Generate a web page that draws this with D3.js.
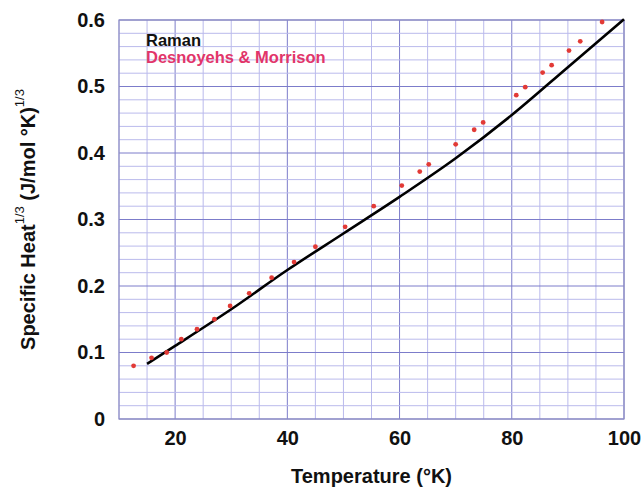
<!DOCTYPE html>
<html>
<head>
<meta charset="utf-8">
<title>Specific heat vs temperature</title>
<style>
    body { margin: 0; background: #fff; }
    text { font-family: "Liberation Sans", Arial, Helvetica, sans-serif; font-weight: bold; }
</style>
</head>
<body>
<div id="chart"></div>
<script src="https://d3js.org/d3.v7.min.js"></script>
<script>
// Raman curve
var ramanT = [15, 20, 30, 40, 50, 60, 70, 80, 90, 100];
var ramanC = [0.083, 0.110, 0.165, 0.224, 0.279, 0.334, 0.392, 0.457, 0.529, 0.601];

// Desnoyehs & Morrison points
var dmT = [12.6, 15.8, 18.5, 21.1, 23.9, 27.0, 29.8, 33.2, 37.2, 41.2, 45.0, 50.3,
           55.4, 60.4, 63.6, 65.2, 70.0, 73.3, 74.9, 80.8, 82.4, 85.5, 87.1, 90.2, 92.2, 96.1];
var dmC = [0.080, 0.092, 0.100, 0.120, 0.135, 0.150, 0.170, 0.189, 0.2125, 0.236, 0.259, 0.289,
           0.320, 0.351, 0.372, 0.383, 0.413, 0.435, 0.446, 0.487, 0.499, 0.521, 0.532, 0.554, 0.568, 0.597];

var xTicks = [20, 40, 60, 80, 100];
var yTicks = [0, 0.1, 0.2, 0.3, 0.4, 0.5, 0.6];

var W = 644, H = 492;
var margin = { top: 20, right: 20, bottom: 73, left: 119 };

var svg = d3.select("#chart").append("svg")
    .attr("width", W)
    .attr("height", H);

var x = d3.scaleLinear().domain([10, 100]).range([margin.left, W - margin.right]);
var y = d3.scaleLinear().domain([0, 0.6]).range([H - margin.bottom, margin.top]);

// grid - minor every 5 K / 0.02, major every 20 K / 0.1
var minorX = d3.range(10, 100.1, 5);
var minorY = d3.range(0, 0.601, 0.02);

svg.append("g").selectAll("line").data(minorX).enter().append("line")
    .attr("x1", function (d) { return x(d); })
    .attr("x2", function (d) { return x(d); })
    .attr("y1", y(0)).attr("y2", y(0.6))
    .attr("stroke", function (d) { return d % 20 === 0 ? "#7c7cca" : "#babaec"; })
    .attr("stroke-width", 1);

svg.append("g").selectAll("line").data(minorY).enter().append("line")
    .attr("y1", function (d) { return y(d); })
    .attr("y2", function (d) { return y(d); })
    .attr("x1", x(10)).attr("x2", x(100))
    .attr("stroke", function (d) { return Math.abs(d * 10 - Math.round(d * 10)) < 1e-6 ? "#7c7cca" : "#babaec"; })
    .attr("stroke-width", 1);

// frame
svg.append("rect")
    .attr("x", x(10)).attr("y", y(0.6))
    .attr("width", x(100) - x(10)).attr("height", y(0) - y(0.6))
    .attr("fill", "none").attr("stroke", "#8e8ec4").attr("stroke-width", 1.2);

// axes (labels only)
var xAxis = svg.append("g")
    .attr("transform", "translate(0," + y(0) + ")")
    .call(d3.axisBottom(x).tickValues(xTicks).tickSize(0).tickPadding(12).tickFormat(d3.format("d")));
xAxis.select(".domain").remove();
xAxis.selectAll("text").attr("font-size", 20).attr("fill", "#111")
    .style("font-family", "'Liberation Sans', Arial, sans-serif").style("font-weight", "bold");

var yAxis = svg.append("g")
    .attr("transform", "translate(" + x(10) + ",0)")
    .call(d3.axisLeft(y).tickValues(yTicks).tickSize(0).tickPadding(14)
        .tickFormat(function (d) { return d === 0 ? "0" : d3.format(".1f")(d); }));
yAxis.select(".domain").remove();
yAxis.selectAll("text").attr("font-size", 20).attr("fill", "#111")
    .style("font-family", "'Liberation Sans', Arial, sans-serif").style("font-weight", "bold");

// Raman line
var line = d3.line()
    .x(function (d, i) { return x(ramanT[i]); })
    .y(function (d) { return y(d); })
    .curve(d3.curveMonotoneX);

svg.append("path")
    .datum(ramanC)
    .attr("d", line)
    .attr("fill", "none")
    .attr("stroke", "#000")
    .attr("stroke-width", 2.6);

// D&M dots
svg.append("g").selectAll("circle").data(dmC).enter().append("circle")
    .attr("cx", function (d, i) { return x(dmT[i]); })
    .attr("cy", function (d) { return y(d); })
    .attr("r", 2.4)
    .attr("fill", "#e23a36");

// legend
svg.append("text").attr("x", 146).attr("y", 46)
    .attr("font-size", 16.5).attr("fill", "#111").text("Raman");
svg.append("text").attr("x", 146).attr("y", 63)
    .attr("font-size", 16.5).attr("fill", "#e2356a").text("Desnoyehs & Morrison");

// x title
svg.append("text")
    .attr("x", (x(10) + x(100)) / 2).attr("y", 483)
    .attr("text-anchor", "middle").attr("font-size", 20).attr("fill", "#111")
    .text("Temperature (\u00B0K)");

// y title with superscripts
var yt = svg.append("text")
    .attr("transform", "translate(35," + ((y(0) + y(0.6)) / 2) + ") rotate(-90)")
    .attr("text-anchor", "middle").attr("font-size", 20).attr("fill", "#111");
yt.append("tspan").text("Specific Heat");
yt.append("tspan").attr("font-size", 13).attr("font-weight", "normal").attr("dy", -11).text("1/3");
yt.append("tspan").attr("dy", 11).text(" (J/mol \u00B0K)");
yt.append("tspan").attr("font-size", 13).attr("font-weight", "normal").attr("dy", -11).text("1/3");
</script>
</body>
</html>
